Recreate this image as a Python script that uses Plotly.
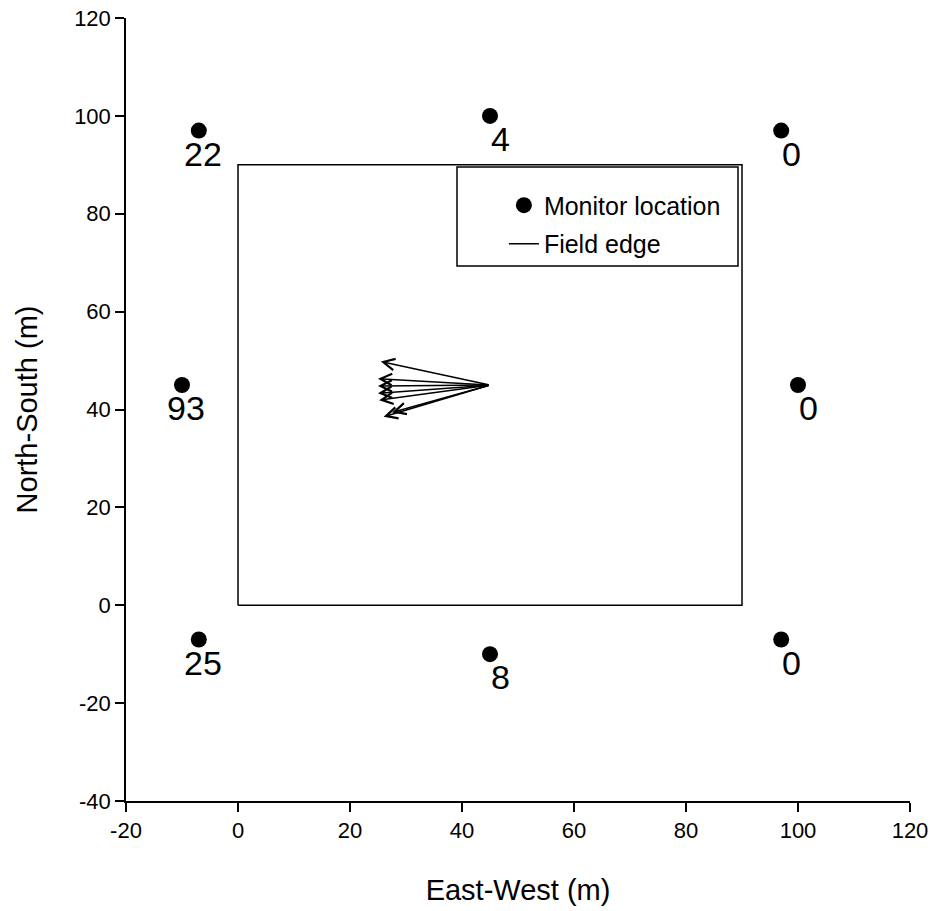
import plotly.graph_objects as go

# Monitor locations (m) and their counts
mon_x = [-7, 45, 97, -10, 100, -7, 45, 97]
mon_y = [97, 100, 97, 45, 45, -7, -10, -7]
mon_lbl = ["22", "4", "0", "93", "0", "25", "8", "0"]

# Field edge (square field)
field_x = [0, 90, 90, 0, 0]
field_y = [0, 0, 90, 90, 0]

# Arrow origin and tips
arrow_origin = (45, 45)
tip_x = [25.5, 25.0, 25.0, 25.0, 25.2, 26.0, 27.5]
tip_y = [49.8, 46.3, 44.8, 43.3, 41.9, 38.5, 39.4]

# Tick labels
x_ticks = [-20, 0, 20, 40, 60, 80, 100, 120]
x_ticktext = ["-20", "0", "20", "40", "60", "80", "100", "120"]
y_ticks = [-40, -20, 0, 20, 40, 60, 80, 100, 120]
y_ticktext = ["-40", "-20", "0", "20", "40", "60", "80", "100", "120"]

FONT = "Liberation Sans, Arial, sans-serif"

fig = go.Figure()
fig.add_trace(go.Scatter(
    x=mon_x, y=mon_y, mode="markers", name="Monitor location",
    marker=dict(size=16, color="black"), legendgroup="a"))
fig.add_trace(go.Scatter(
    x=field_x, y=field_y, mode="lines", name="Field edge",
    line=dict(color="black", width=1.5), legendgroup="b"))

annotations = []
for x, y, t in zip(mon_x, mon_y, mon_lbl):
    annotations.append(dict(
        x=x, y=y, xref="x", yref="y", text=t, showarrow=False,
        xanchor="center", yanchor="middle",
        xshift=10 if len(t) == 1 else 4, yshift=-23,
        font=dict(family=FONT, size=34, color="black")))

for tx, ty in zip(tip_x, tip_y):
    annotations.append(dict(
        x=tx, y=ty, xref="x", yref="y", ax=arrow_origin[0], ay=arrow_origin[1],
        axref="x", ayref="y", text="", showarrow=True, arrowhead=5,
        arrowsize=1.5, arrowwidth=1.5, arrowcolor="black"))

fig.update_layout(
    width=934, height=911,
    margin=dict(l=126, r=24, t=18, b=110, autoexpand=False),
    paper_bgcolor="white", plot_bgcolor="white",
    font=dict(family=FONT, color="black"),
    showlegend=True,
    legend=dict(x=0.482, y=0.79, xanchor="left", yanchor="top",
                font=dict(family=FONT, size=25), bgcolor="rgba(0,0,0,0)",
                traceorder="grouped", tracegroupgap=3, itemwidth=30),
    annotations=annotations,
    shapes=[dict(type="rect", xref="paper", yref="paper",
                 x0=(457 - 126) / 784, x1=(738 - 126) / 784,
                 y0=(801 - 266) / 783, y1=(801 - 167) / 783,
                 line=dict(color="black", width=1.5))],
)
fig.update_xaxes(range=[-20, 120], tickvals=x_ticks, ticktext=x_ticktext, automargin=False,
                 showline=True, linecolor="black",
                 linewidth=1.5, ticks="outside", ticklen=9, tickwidth=1.5, tickcolor="black",
                 showgrid=False, zeroline=False,
                 tickfont=dict(family=FONT, size=22),
                 title=dict(text="East-West (m)", font=dict(family=FONT, size=29), standoff=38))
fig.update_yaxes(range=[-40, 120], tickvals=y_ticks, ticktext=y_ticktext, automargin=False,
                 showline=True, linecolor="black",
                 linewidth=1.5, ticks="outside", ticklen=9, tickwidth=1.5, tickcolor="black",
                 showgrid=False, zeroline=False,
                 tickfont=dict(family=FONT, size=22),
                 title=dict(text="North-South (m)", font=dict(family=FONT, size=29), standoff=28))

fig.write_html("out.html", config={"displayModeBar": False},
               post_script="document.body.style.margin='0';")
